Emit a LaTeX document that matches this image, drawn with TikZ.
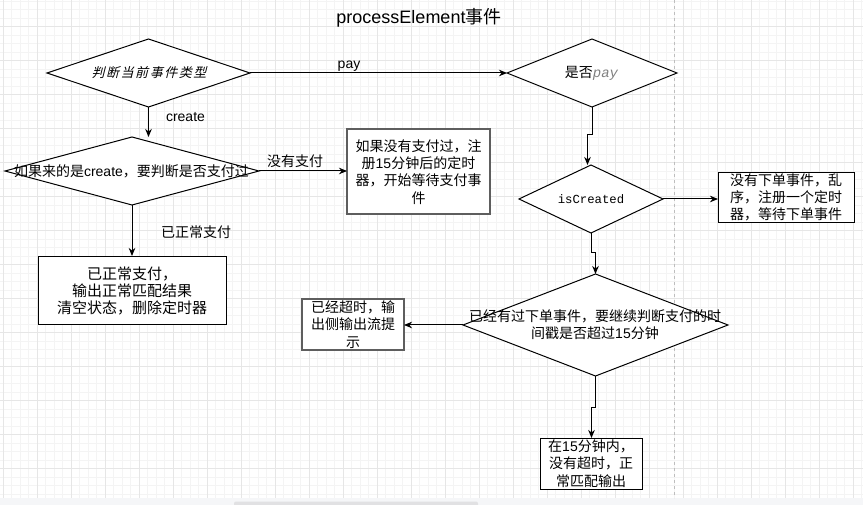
\documentclass[tikz,border=0pt]{standalone}
\usepackage{fontspec}
\setmainfont{Liberation Sans}
\setmonofont{Liberation Mono}
\newfontfamily\cjk{Noto Sans CJK SC}
\newfontfamily\cjkit[FakeSlant=0.25,LetterSpace=12]{Noto Sans CJK SC}
\newfontfamily\lat{Liberation Sans}
\usetikzlibrary{arrows.meta,shapes.geometric}
\definecolor{gminor}{HTML}{F4F4F4}
\definecolor{gmajor}{HTML}{E6E6E6}
\definecolor{boxgray}{HTML}{5E5E5E}
\definecolor{paygray}{HTML}{808080}
\tikzset{
  dia/.style={draw=black, line width=1pt, shape=diamond, inner sep=0pt, outer sep=0pt, fill=white},
  boxa/.style={draw=boxgray, line width=1.6pt, rectangle, inner sep=0pt, outer sep=0pt, fill=white, align=center},
  boxb/.style={draw=black, line width=0.9pt, rectangle, inner sep=0pt, outer sep=0pt, fill=white, align=center},
  txt/.style={inner sep=0pt, align=center, font=\fontsize{14}{17.2}\selectfont\cjk},
  lbl/.style={inner sep=0pt, font=\fontsize{14}{17}\selectfont},
  arr/.style={-{Stealth[length=8pt,width=6.5pt,inset=2.5pt]}, line width=1pt, draw=black},
  gminorline/.style={draw=gminor, line width=0.8pt},
  gmajorline/.style={draw=gmajor, line width=1pt}
}
\begin{document}
\begin{tikzpicture}[x=1pt,y=-1pt]
\useasboundingbox (0,0) rectangle (863,505);
% background grid
\foreach \i in {0,...,101} {\draw[gminorline] ({3.3+8.5*\i},0) -- ({3.3+8.5*\i},498);}
\foreach \j in {0,...,58} {\draw[gminorline] (0,{1.2+8.5*\j}) -- (863,{1.2+8.5*\j});}
\foreach \i in {0,...,25} {\draw[gmajorline] ({3.3+34*\i},0) -- ({3.3+34*\i},498);}
\foreach \j in {0,...,13} {\draw[gmajorline] (0,{26.7+34*\j}) -- (863,{26.7+34*\j});}
\fill[color={rgb,255:red,245;green,246;blue,248}] (0,498) rectangle (863,505);
\fill[color={rgb,255:red,225;green,225;blue,227}, rounded corners=2pt] (234,501.5) rectangle (478,507);
\draw[draw={rgb,255:red,190;green,190;blue,190}, line width=0.8pt, dash pattern=on 3pt off 3pt] (674,0) -- (674,498);

% title
\node[inner sep=0pt, font=\fontsize{18}{20}\selectfont] (title) at (419,18) {processElement{\cjk 事件}};

% shapes
\node[dia, minimum width=203pt, minimum height=68pt] (d1) at (148.5,73) {};
\node[inner sep=0pt, font=\fontsize{13}{15}\selectfont\cjkit] (d1t) at (149,73) {判断当前事件类型};

\node[dia, minimum width=170pt, minimum height=68pt] (d2) at (592,73) {};
\node[inner sep=0pt, font=\fontsize{14}{17}\selectfont] (d2t) at (591.5,73) {{\cjk 是否}{\ttfamily\itshape\color{paygray}pay}};

\node[dia, minimum width=254pt, minimum height=68pt] (dc) at (132,171) {};
\node[txt] (dct) at (131.5,171) {如果来的是{\lat create}，要判断是否支付过};

\node[boxa, minimum width=143pt, minimum height=85pt] (bnp) at (418.5,171.5) {};
\node[txt] (bnpt) at (418.5,172) {如果没有支付过，注\\册{\lat 15}分钟后的定时\\器，开始等待支付事\\件};

\node[boxb, minimum width=188pt, minimum height=68pt] (bok) at (132,290) {};
\node[txt, font=\fontsize{15}{17}\selectfont\cjk] (bokt) at (132,291) {已正常支付，\\输出正常匹配结果\\清空状态，删除定时器};

\node[dia, minimum width=144pt, minimum height=68pt] (d3) at (591,199) {};
\node[inner sep=0pt, font=\fontsize{12.3}{14}\selectfont\ttfamily] (d3t) at (591,199) {isCreated};

\node[boxb, minimum width=136pt, minimum height=50pt] (bnc) at (786,197) {};
\node[txt] (bnct) at (786,197.5) {没有下单事件，乱\\序，注册一个定时\\器，等待下单事件};

\node[dia, minimum width=265pt, minimum height=102pt] (d4) at (595.5,325) {};
\node[txt] (d4t) at (595,324.5) {已经有过下单事件，要继续判断支付的时\\间戳是否超过{\lat 15}分钟};

\node[boxa, minimum width=102pt, minimum height=51pt] (bto) at (353,324.5) {};
\node[txt] (btot) at (353,324.5) {已经超时，输\\出侧输出流提\\示};

\node[boxb, minimum width=102pt, minimum height=51pt] (bin) at (591,463.5) {};
\node[txt] (bint) at (591,463.5) {在{\lat 15}分钟内，\\没有超时，正\\常匹配输出};

% edge labels
\node[lbl] (lpay) at (349,66) {pay};
\node[lbl] (lcreate) at (185.5,117) {create};
\node[lbl, font=\fontsize{14}{17}\selectfont\cjk] (lnp) at (295,161) {没有支付};
\node[lbl, font=\fontsize{14}{17}\selectfont\cjk] (lok) at (196,232) {已正常支付};

% connectors
\draw[arr] (d1.east) -- (d2.west);
\draw[arr] (d1.south) -- (d1.south |- dc.north);
\draw[arr] (dc.east) -- (dc.east -| bnp.west);
\draw[arr] (dc.south) -- (bok.north);
\draw[arr] (d2.south) -- ++(0,28) coordinate (j1) -- ([xshift=-4.5pt]j1) coordinate (j2) -- (j2 |- d3.north);
\draw[arr] (d3.east) -- (d3.east -| bnc.west);
\draw[arr] (d3.south) -- ++(0,20) coordinate (j3) -- ([xshift=4.5pt]j3) coordinate (j4) -- (j4 |- d4.north);
\draw[arr] (d4.west) -- (d4.west -| bto.east);
\draw[arr] (d4.south) -- ++(0,31) coordinate (j5) -- ([xshift=-4pt]j5) coordinate (j6) -- (j6 |- bin.north);
\end{tikzpicture}
\end{document}
